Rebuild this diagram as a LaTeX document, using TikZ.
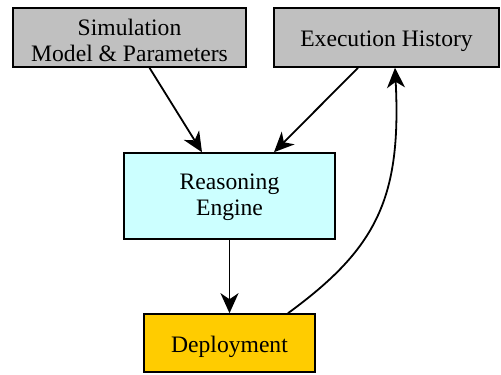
\documentclass[tikz,border=0pt]{standalone}
\usepackage{fontspec}
\setmainfont{Liberation Serif}
\usepackage{tikz}
\usetikzlibrary{arrows.meta}
\definecolor{grisbox}{RGB}{192,192,192}
\definecolor{cianbox}{RGB}{204,255,255}
\definecolor{orobox}{RGB}{255,204,0}
\tikzset{
  flecha/.style={
    line width=0.9pt,
    -{Stealth[length=10pt,width=9pt,inset=3pt]}
  }
}
\newcommand{\puntal}[1]{\rule{0pt}{#1}}

\begin{document}
\begin{tikzpicture}[x=0.5pt,y=-0.5pt]
\useasboundingbox (0,0) rectangle (501,374);
% Estilos de nodos
\tikzstyle{caja} = [rectangle, draw, line width=0.8pt, align=center, inner sep=0pt, font=\fontsize{11.8}{13}\selectfont]
\tikzstyle{entrada} = [caja, fill=grisbox, minimum height=29.5pt]
% Nodos
\node (sim) [entrada, minimum width=116.5pt] at (129.5,37.5) {\puntal{11pt}Simulation\\Model \& Parameters};
\node (hist) [entrada, minimum width=112.5pt] at (386.5,37.5) {\puntal{12pt}Execution History};
\node (motor) [caja, fill=cianbox, minimum width=105.5pt, minimum height=43pt] at (229.5,196) {\puntal{9.5pt}Reasoning\\Engine};
\node (despl) [caja, fill=orobox, minimum width=85.5pt, minimum height=29pt] at (229.5,343) {\puntal{12pt}Deployment};
% Flechas
\draw[flecha] ([xshift=10pt]sim.south) -- ([xshift=-13.75pt]motor.north);
\draw[flecha] ([xshift=-14.25pt]hist.south) -- ([xshift=22.25pt]motor.north);
\draw[flecha] (motor.south) -- (despl.north);
\draw[flecha] ([xshift=29.25pt]despl.north) .. controls +(89,-65) and +(6.5,130) .. ([xshift=4.25pt]hist.south);
\end{tikzpicture}
\end{document}
